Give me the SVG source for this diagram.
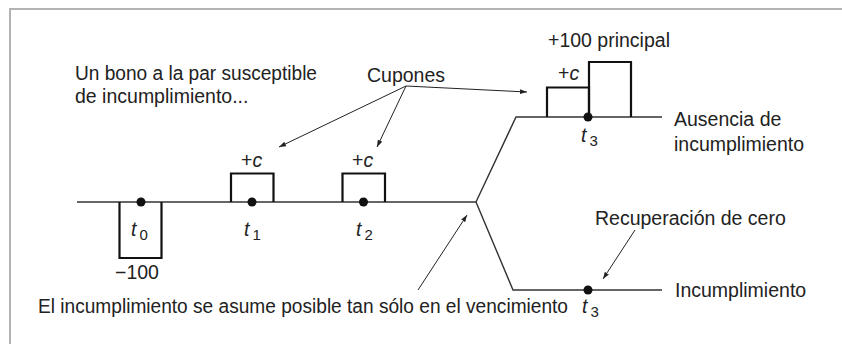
<svg xmlns="http://www.w3.org/2000/svg" width="842" height="344" viewBox="0 0 842 344">
<defs>
<style>
.t{font-family:"Liberation Sans",Arial,Helvetica,sans-serif;font-size:19.5px;fill:#222}
.i{font-style:italic}
.s{font-size:15px}
.ln{fill:none;stroke:#333;stroke-width:1.4}
.bx{fill:none;stroke:#111;stroke-width:2.2}
.ar{fill:none;stroke:#222;stroke-width:1}
.dot{fill:#111}
</style>
<marker id="ah" viewBox="0 0 10 10" refX="10" refY="5" markerWidth="7" markerHeight="7" orient="auto" markerUnits="userSpaceOnUse">
<path d="M0,1.5 L10,5 L0,8.5 Z" fill="#222"/>
</marker>
</defs>
<rect width="842" height="344" fill="#fff"/>
<path d="M10,344 V9 H842" fill="none" stroke="#b3b3b3" stroke-width="2"/>

<g id="timeline">
<path class="ln" d="M77,202 H476"/>
<path class="ln" d="M476,202 L516,117 H662"/>
<path class="ln" d="M476,202 L513,290 H662"/>
</g>

<g id="t0">
<path class="bx" d="M119.5,202 V258 H161.5 V202"/>
<circle class="dot" cx="141" cy="202" r="4.5"/>
<text class="t" x="131" y="236"><tspan class="i">t</tspan><tspan class="s" dx="3" dy="4">0</tspan></text>
<text class="t" x="115" y="279">−100</text>
</g>

<g id="t1">
<path class="bx" d="M231,202 V173.5 H273.5 V202"/>
<circle class="dot" cx="252" cy="202" r="4.5"/>
<text class="t" x="244" y="236"><tspan class="i">t</tspan><tspan class="s" dx="3" dy="4">1</tspan></text>
<text class="t" x="241" y="167">+<tspan class="i">c</tspan></text>
</g>

<g id="t2">
<path class="bx" d="M342.5,202 V173.5 H385 V202"/>
<circle class="dot" cx="363.5" cy="202" r="4.5"/>
<text class="t" x="356" y="236"><tspan class="i">t</tspan><tspan class="s" dx="3" dy="4">2</tspan></text>
<text class="t" x="352" y="167">+<tspan class="i">c</tspan></text>
</g>

<g id="t3-nodefault">
<path class="bx" d="M547,117 V87.5 H589 V117"/>
<path class="bx" d="M589,117 V62 H631 V117"/>
<circle class="dot" cx="588" cy="117" r="4.5"/>
<text class="t" x="581" y="142"><tspan class="i">t</tspan><tspan class="s" dx="3" dy="4">3</tspan></text>
<text class="t" x="558" y="80">+<tspan class="i">c</tspan></text>
<text class="t" x="548" y="47">+100 principal</text>
<text class="t" x="674" y="126">Ausencia de</text>
<text class="t" x="674" y="151">incumplimiento</text>
</g>

<g id="t3-default">
<circle class="dot" cx="588" cy="290" r="4.5"/>
<text class="t" x="582" y="313"><tspan class="i">t</tspan><tspan class="s" dx="3" dy="4">3</tspan></text>
<text class="t" x="675" y="297">Incumplimiento</text>
<text class="t" x="595" y="225">Recuperación de cero</text>
</g>

<g id="notes">
<text class="t" x="75" y="80" textLength="242" lengthAdjust="spacingAndGlyphs">Un bono a la par susceptible</text>
<text class="t" x="75" y="103">de incumplimiento...</text>
<text class="t" x="367" y="82">Cupones</text>
<text class="t" x="38" y="313" textLength="530" lengthAdjust="spacingAndGlyphs">El incumplimiento se asume posible tan sólo en el vencimiento</text>
</g>

<g id="connectors">
<path class="ar" d="M406,86 L279,147" marker-end="url(#ah)"/>
<path class="ar" d="M406,86 L377,147" marker-end="url(#ah)"/>
<path class="ar" d="M406,86 L527,92" marker-end="url(#ah)"/>
<path class="ar" d="M418,290 L467,215" marker-end="url(#ah)"/>
<path class="ar" d="M635,230 L603,279" marker-end="url(#ah)"/>
</g>
</svg>
